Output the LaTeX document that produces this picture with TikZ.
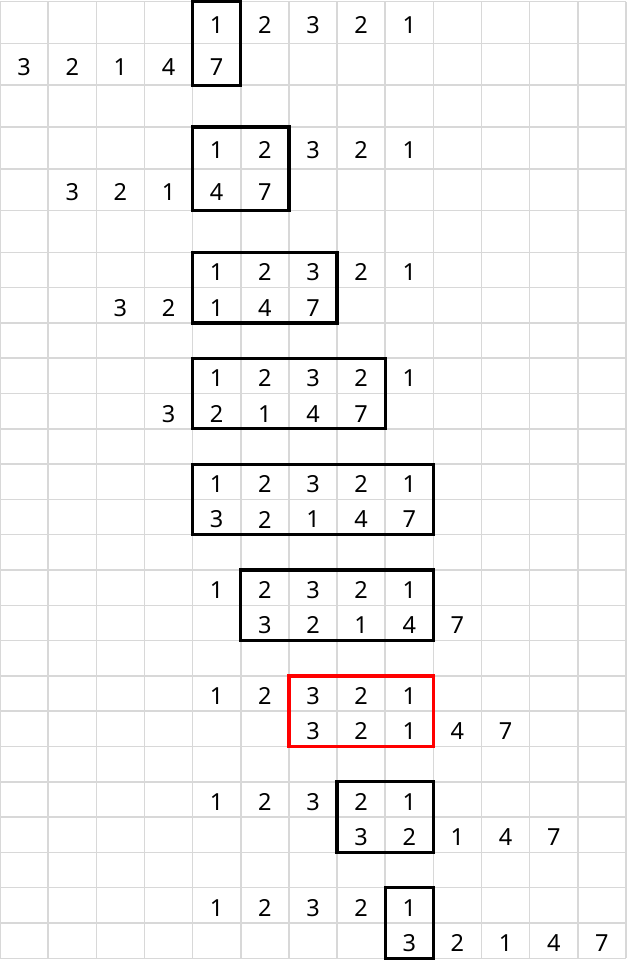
\documentclass[tikz,border=0pt]{standalone}
\usepackage{fontspec}
\setmainfont{Noto Sans}
\usepackage{tikz}
\definecolor{gridgrey}{RGB}{216,216,216}
\pgfmathdeclarefunction{rowy}{1}{\pgfmathparse{ifthenelse(#1<=6,1.7+41.77*#1,252.3+35.3*(#1-6))}}

\begin{document}
\begin{tikzpicture}[x=1pt,y=-1pt,
    gridline/.style={draw=gridgrey,line width=1.5pt},
    numcell/.style={inner sep=0pt,text=black,font=\fontsize{23.5}{28}\selectfont},
    windowbox/.style={draw=black,line width=3.2pt}]

  \useasboundingbox (0,0) rectangle (626,960);

  \foreach \k in {0,...,26}
    \draw[gridline] (0,{rowy(\k)}) -- (626,{rowy(\k)});
  \foreach \i in {0,...,13}
    \draw[gridline] ({48.15*\i},{rowy(0)}) -- ({48.15*\i},{rowy(26)});

  \foreach \g in {1,...,9}{
    \foreach \d [count=\c] in {1,2,3,2,1}
      \node[numcell] (t\g-\c) at ({48.15*(\c+3.5)},{(rowy(3*\g-3)+rowy(3*\g-2))/2+2.5}) {\d};
    \foreach \d [count=\c] in {3,2,1,4,7}
      \node[numcell] (b\g-\c) at ({48.15*(\g+\c-1.5)},{(rowy(3*\g-2)+rowy(3*\g-1))/2+2.5}) {\d};
  }

  \foreach \g/\l/\r in {1/4/5,2/4/6,3/4/7,4/4/8,5/4/9,6/5/9,8/7/9,9/8/9}
    \draw[windowbox] ({48.15*\l},{rowy(3*\g-3)}) rectangle ({48.15*\r},{rowy(3*\g-1)});
  \draw[windowbox,draw=red] ({48.15*6},{rowy(18)}) rectangle ({48.15*9},{rowy(20)});
\end{tikzpicture}
\end{document}
